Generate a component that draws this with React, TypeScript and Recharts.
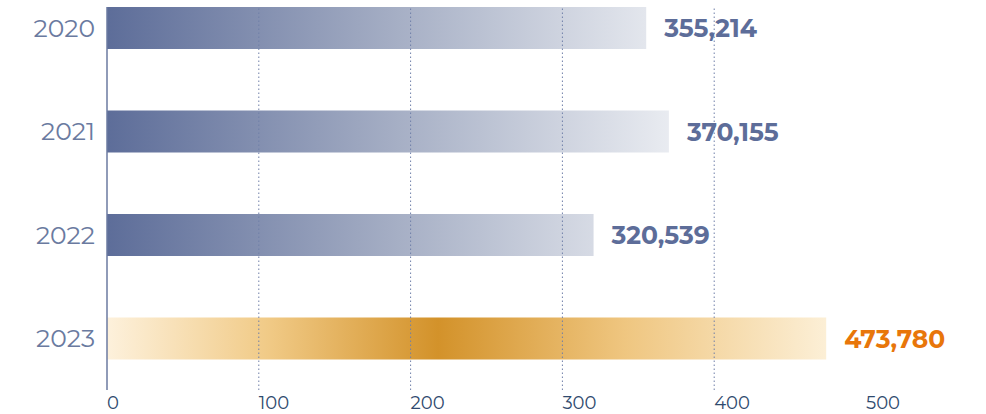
import { BarChart, Bar, XAxis, YAxis, Cell, LabelList, ReferenceLine } from 'recharts';

const years = ['2020', '2021', '2022', '2023'];
const totals = [355214, 370155, 320539, 473780];
const xTicks = [0, 100000, 200000, 300000, 400000, 500000];
const gridLines = [100000, 200000, 300000, 400000];

const FONT = 'Montserrat, "DejaVu Sans", sans-serif';
const PLOT_LEFT = 107;
const BLUE = '#5d6d99';
const ORANGE = '#e8760a';

const data = years.map((year, i) => ({ year, total: totals[i] }));

const XTick = (props: any) => {
  const { x, y, payload } = props;
  return (
    <text x={x} y={y + 11} textAnchor="start" fontSize={18} fill="#2f4a6e" fontFamily={FONT}>
      {payload.value / 1000}
    </text>
  );
};

const ValueLabel = (props: any) => {
  const { x, y, width, height, value, index } = props;
  const last = index === data.length - 1;
  return (
    <text
      x={x + width + 18}
      y={y + height / 2}
      dominantBaseline="central"
      fontSize={25}
      fontWeight={700}
      fill={last ? ORANGE : BLUE}
      fontFamily={FONT}
    >
      {Number(value).toLocaleString('en-US')}
    </text>
  );
};

export default function App() {
  return (
    <div style={{ width: 986, height: 414 }}>
      <style>{`body{margin:0}`}</style>
      <BarChart
        width={986}
        height={414}
        data={data}
        layout="vertical"
        margin={{ top: 7, right: 120, bottom: 0, left: 0 }}
      >
        <defs>
          <linearGradient id="blueGrad" gradientUnits="userSpaceOnUse" x1={PLOT_LEFT} y1={0} x2={690} y2={0}>
            <stop offset="0%" stopColor="#5d6d99" />
            <stop offset="50%" stopColor="#a6afc5" />
            <stop offset="100%" stopColor="#eef0f4" />
          </linearGradient>
          <linearGradient id="orangeGrad" x1="0" y1="0" x2="1" y2="0">
            <stop offset="0%" stopColor="#fdf1dc" />
            <stop offset="22%" stopColor="#f1cb88" />
            <stop offset="46%" stopColor="#d3922a" />
            <stop offset="72%" stopColor="#efc680" />
            <stop offset="100%" stopColor="#fcefd6" />
          </linearGradient>
        </defs>
        <XAxis
          type="number"
          domain={[0, 500000]}
          ticks={xTicks}
          axisLine={false}
          tickLine={false}
          height={24}
          tick={<XTick />}
          interval={0}
        />
        <YAxis
          type="category"
          dataKey="year"
          width={PLOT_LEFT}
          padding={{ top: -31, bottom: 0 }}
          axisLine={{ stroke: '#6b7aa0', strokeWidth: 1.5 }}
          tickLine={false}
          tickMargin={6}
          tick={{ fontSize: 25, fill: '#6a7aa0', fontFamily: FONT, fontWeight: 400 }}
        />
        <Bar dataKey="total" barSize={42} isAnimationActive={false}>
          {data.map((d, i) => (
            <Cell key={d.year} fill={i === data.length - 1 ? 'url(#orangeGrad)' : 'url(#blueGrad)'} />
          ))}
          <LabelList dataKey="total" content={<ValueLabel />} />
        </Bar>
        {gridLines.map((v) => (
          <ReferenceLine key={v} x={v} stroke="#6f7fa8" strokeWidth={1} strokeDasharray="1.5 2.5" />
        ))}
      </BarChart>
    </div>
  );
}
